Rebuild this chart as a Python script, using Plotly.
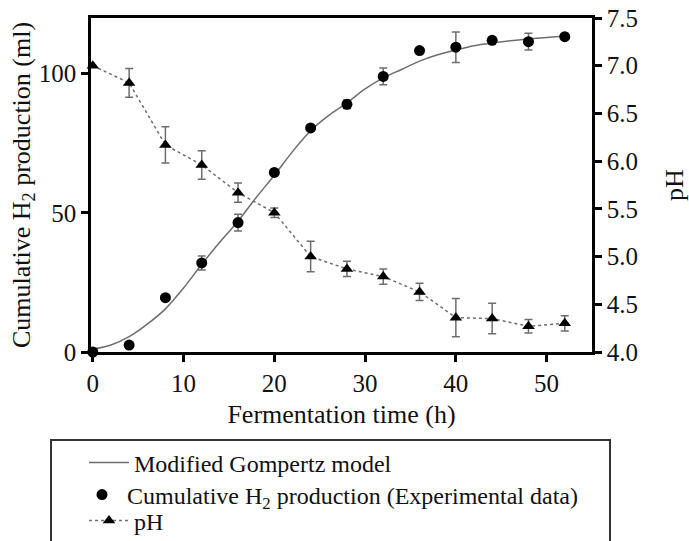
import plotly.graph_objects as go

# Experimental data
time_h = [0, 4, 8, 12, 16, 20, 24, 28, 32, 36, 40, 44, 48, 52]
h2_ml = [0, 2.5, 19.5, 32, 46.5, 64.5, 80.5, 89, 99, 108.3, 109.5, 112, 111.5, 113.3]
h2_err = [0, 0, 0, 2.5, 3, 0, 0, 1.5, 3, 0, 5.5, 1, 3, 0]
ph_vals = [7.0, 6.82, 6.17, 5.96, 5.67, 5.46, 5.0, 4.87, 4.79, 4.63, 4.36, 4.35, 4.27, 4.3]
ph_err = [0, 0.15, 0.19, 0.15, 0.1, 0.05, 0.16, 0.08, 0.08, 0.09, 0.2, 0.16, 0.07, 0.08]

# Modified Gompertz model curve
model_t = [0, 2, 4, 6, 8, 10, 12, 14, 16, 18, 20, 22, 24, 26, 28, 30, 32, 34, 36, 38, 40, 42, 44, 46, 48, 50, 52]
model_h2 = [1, 2.5, 5.5, 10, 15.5, 23, 31.5, 39.5, 47, 55.5, 63.5, 72, 79.5, 85, 89.5, 94.5, 98.5, 101.5, 104.5, 106.8, 108.5, 110, 111, 111.8, 112.5, 113, 113.5]

x_ticks = [0, 10, 20, 30, 40, 50]
y_ticks = [0, 50, 100]
y2_ticks = [4.0, 4.5, 5.0, 5.5, 6.0, 6.5, 7.0, 7.5]

FONT = "Liberation Serif"
GRAY = "#6e6e6e"
TXT = "#111"

fig = go.Figure()

fig.add_trace(go.Scatter(
    x=model_t, y=model_h2, mode="lines", line=dict(color=GRAY, width=1.5, shape="spline"),
    name="Modified Gompertz model", cliponaxis=False, legend="legend"))

fig.add_trace(go.Scatter(
    x=time_h, y=h2_ml, mode="markers",
    marker=dict(symbol="circle", size=11, color="black"),
    error_y=dict(type="data", array=h2_err, visible=True, color=GRAY, thickness=1.5, width=4),
    name="Cumulative H<sub>2</sub> production (Experimental data)", cliponaxis=False,
    legend="legend2"))

fig.add_trace(go.Scatter(
    x=time_h, y=ph_vals, mode="lines+markers", yaxis="y2",
    line=dict(color=GRAY, width=1.5, dash="dot"),
    marker=dict(symbol="triangle-up", size=11, color="black"),
    error_y=dict(type="data", array=ph_err, visible=True, color=GRAY, thickness=1.5, width=4),
    name="pH", cliponaxis=False, legend="legend3"))

axis_common = dict(
    showline=True, linecolor="black", linewidth=2.5, ticks="outside",
    ticklen=7, tickwidth=2.5, tickcolor="black", showgrid=False, zeroline=False,
    tickfont=dict(family=FONT, size=25, color=TXT), automargin=False,
)


def leg(xpx, ypx):
    return dict(x=xpx / 689, xref="container", xanchor="left",
                y=1 - ypx / 541, yref="container", yanchor="middle",
                bgcolor="rgba(0,0,0,0)", borderwidth=0,
                font=dict(family=FONT, size=24, color=TXT), itemwidth=40)


fig.update_layout(
    width=689, height=541,
    margin=dict(l=91, r=97, t=18, b=189, autoexpand=False),
    plot_bgcolor="white", paper_bgcolor="white",
    font=dict(family=FONT, size=24, color=TXT),
    xaxis=dict(range=[-0.2, 55], tickvals=x_ticks, mirror=True,
               title=dict(text="Fermentation time (h)", font=dict(family=FONT, size=26, color=TXT), standoff=10),
               **axis_common),
    yaxis=dict(range=[0, 120], tickvals=y_ticks, **axis_common),
    yaxis2=dict(range=[4.0, 7.5], tickvals=y2_ticks, tickformat=".1f", overlaying="y", side="right",
                title=dict(text="pH", font=dict(family=FONT, size=26, color=TXT), standoff=36),
                **axis_common),
    showlegend=True,
    legend=leg(84, 463),
    legend2=leg(77, 495),
    legend3=leg(84, 521),
    annotations=[dict(text="Cumulative H<sub>2</sub> production (ml)", textangle=-90,
                      xref="paper", yref="paper", x=(23 - 91) / 501, y=0.5,
                      xanchor="center", yanchor="middle", showarrow=False,
                      font=dict(family=FONT, size=26, color=TXT))],
    shapes=[dict(type="rect", xref="paper", yref="paper",
                 x0=(51 - 91) / 501, x1=(610 - 91) / 501,
                 y0=(352 - 560) / 334, y1=(352 - 440) / 334,
                 line=dict(color="#333", width=2), fillcolor="rgba(0,0,0,0)")],
)

fig.write_html("out.html")
